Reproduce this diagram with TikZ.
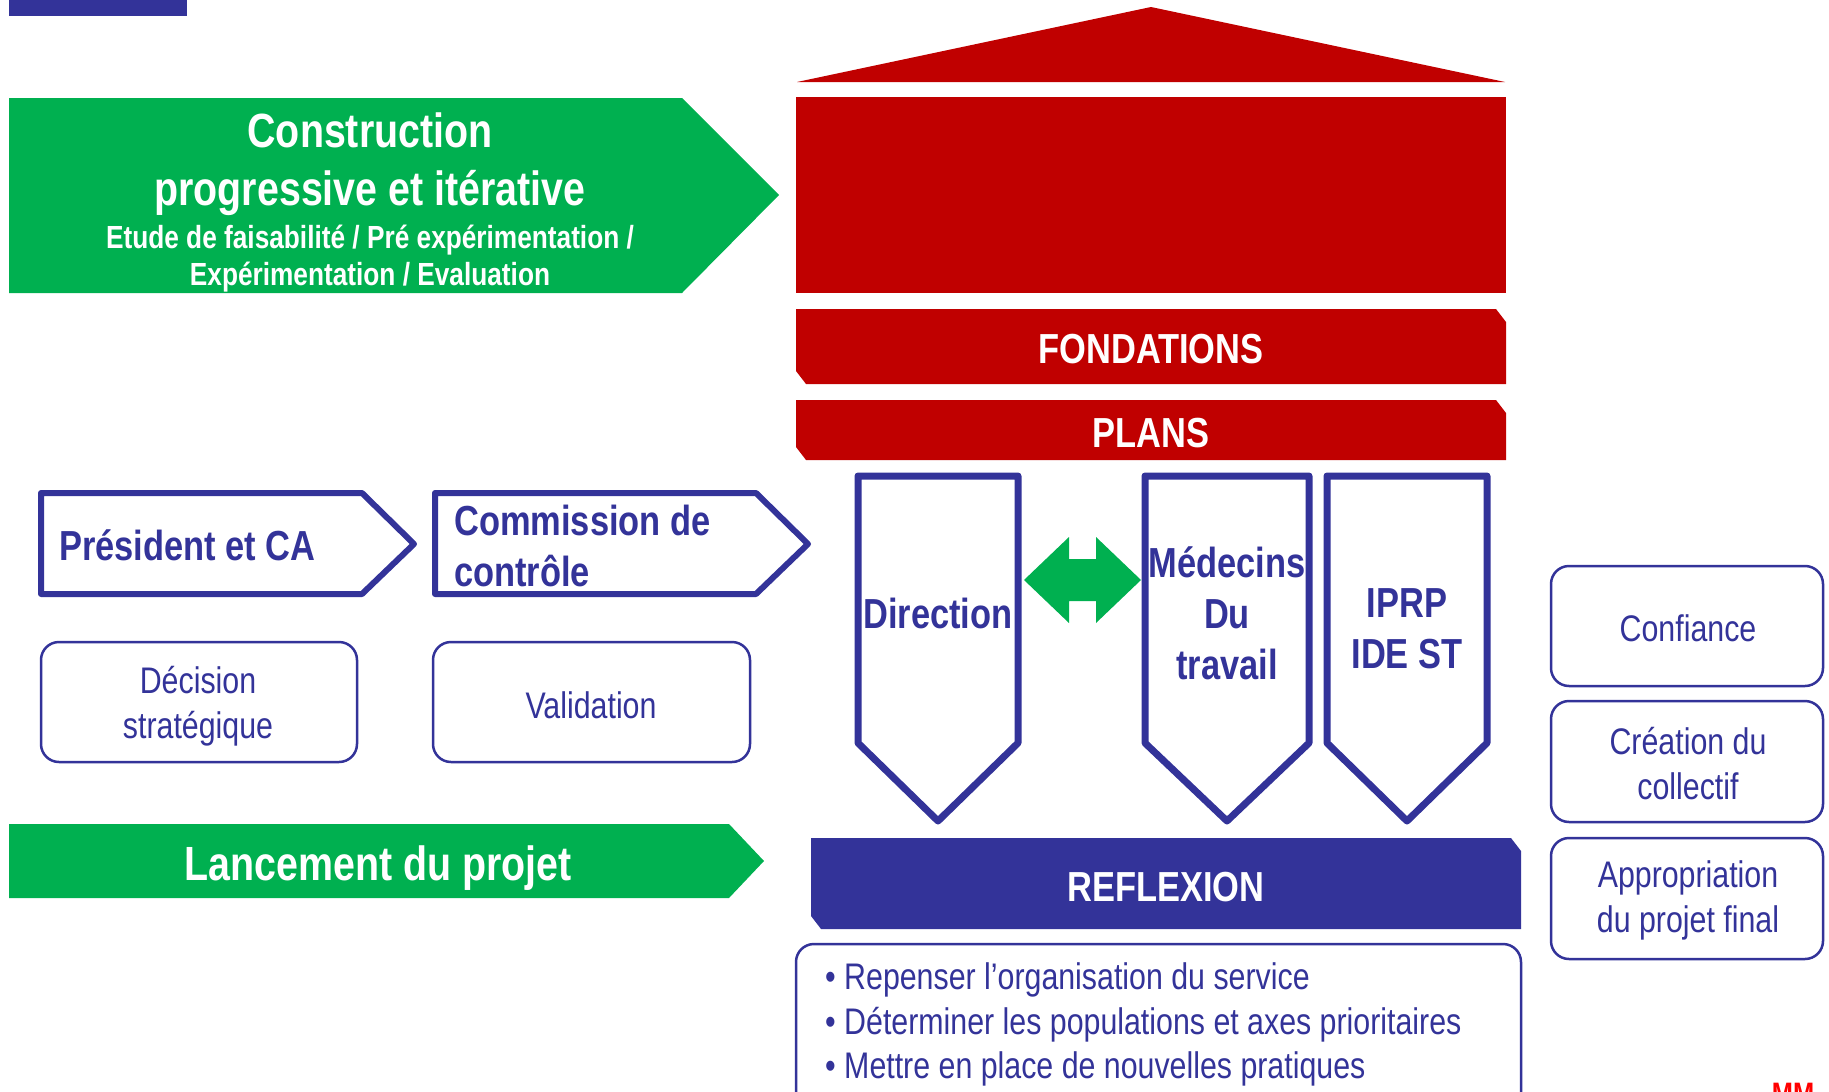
\documentclass[tikz,border=0pt]{standalone}
\usepackage{fontspec}
\setmainfont[FakeStretch=0.82]{Liberation Sans}
\definecolor{vert}{HTML}{00B050}
\definecolor{rouge}{HTML}{C00000}
\definecolor{bleu}{HTML}{333399}
\tikzset{
  banner/.style={fill=vert},
  maison/.style={fill=rouge},
  pilier/.style={draw=bleu, line width=7pt, line join=round, fill=white},
  fleche/.style={draw=bleu, line width=6pt, line join=round, fill=white},
  boite/.style={draw=bleu, line width=2.5pt, rounded corners=18pt, fill=white},
  titre/.style={text=bleu, font=\bfseries\fontsize{42}{51}\selectfont, inner sep=0, align=center},
  texte/.style={text=bleu, font=\fontsize{37}{45}\selectfont, inner sep=0, align=center},
  blanc/.style={text=white, font=\bfseries\fontsize{42}{51}\selectfont, inner sep=0}
}

\begin{document}
\begin{tikzpicture}[x=1pt, y=-1pt]

\useasboundingbox (0,0) rectangle (1829,1092);
\clip (0,0) rectangle (1829,1092);

% bandeau du haut
\fill [bleu] (9,0) rectangle (187,16);

% fleches vertes
\fill [banner] (9,98) -- (682,98) -- (779,195) -- (682,293) -- (9,293) -- cycle;
\node [text=white, font=\bfseries\fontsize{48}{58}\selectfont, align=center, inner sep=0] (constr) at (370,164) {Construction\\progressive et itérative};
\node [text=white, font=\bfseries\fontsize{32}{37}\selectfont, align=center, inner sep=0] (etapes) at (370,259) {Etude de faisabilité / Pré expérimentation /\\Expérimentation / Evaluation};

\fill [banner] (9,824) -- (729,824) -- (764,861) -- (729,898) -- (9,898) -- cycle;
\node [text=white, font=\bfseries\fontsize{48}{58}\selectfont, inner sep=0] (lancement) at (378,868) {Lancement du projet};

% la maison
\fill [maison] (797,82) -- (1151,7) -- (1505,82) -- cycle;
\fill [maison] (796,97) rectangle (1506,293);
\fill [maison] (796,309) -- (1496,309) -- (1506,322) -- (1506,384) -- (806,384) -- (796,371) -- cycle;
\fill [maison] (796,400) -- (1496,400) -- (1506,413) -- (1506,460) -- (806,460) -- (796,447) -- cycle;
\node [blanc] (fond) at (1151,349) {FONDATIONS};
\node [blanc] (plans) at (1151,433) {PLANS};

% piliers
\draw [pilier] (858,476) -- (1018,476) -- (1018,743) -- (938,821) -- (858,743) -- cycle;
\draw [pilier] (1145,476) -- (1309,476) -- (1309,743) -- (1227,821) -- (1145,743) -- cycle;
\draw [pilier] (1327,476) -- (1487,476) -- (1487,743) -- (1407,821) -- (1327,743) -- cycle;
\node [titre] (dir) at (938,613) {Direction};
\node [titre] (med) at (1227,613) {Médecins\\Du\\travail};
\node [titre] (iprp) at (1407,629) {IPRP\\IDE ST};

% double fleche
\coordinate (dirE) at (1024,580);
\coordinate (medW) at (1141,580);
\fill [vert] (dirE) -- ++(45,-43) -- ++(0,22) -- ++(27,0) -- ++(0,-22) -- (medW)
  -- ++(-45,43) -- ++(0,-22) -- ++(-27,0) -- ++(0,22) -- cycle;

% reflexion
\fill [bleu] (811,838) -- (1511,838) -- (1521,851) -- (1521,929) -- (821,929) -- (811,916) -- cycle;
\node [blanc] (refl) at (1166,887) {REFLEXION};
\draw [boite] (796,944) rectangle (1521,1120);
\node [texte, anchor=west] (b1) at (825,980) {• Repenser l’organisation du service};
\node [texte, anchor=west] (b2) at (825,1025) {• Déterminer les populations et axes prioritaires};
\node [texte, anchor=west] (b3) at (825,1069) {• Mettre en place de nouvelles pratiques};

% acteurs
\draw [fleche] (41,493) -- (362,493) -- (414,544) -- (362,594) -- (41,594) -- cycle;
\draw [fleche] (435,493) -- (756,493) -- (808,544) -- (756,594) -- (435,594) -- cycle;
\node [titre, anchor=west] (pres) at (59,545) {Président et CA};
\node [titre, anchor=west, align=left] (comm) at (454,546) {Commission de\\contrôle};

\draw [boite] (41,642) rectangle (357,762);
\draw [boite] (433,642) rectangle (750,762);
\node [texte] (dec) at (198,706) {Décision\\stratégique};
\node [texte] (valid) at (591,705) {Validation};

% valeurs
\draw [boite] (1551,566) rectangle (1823,686);
\draw [boite] (1551,701) rectangle (1823,822);
\draw [boite] (1551,838) rectangle (1823,959);
\node [texte] (conf) at (1688,628) {Confiance};
\node [texte] (crea) at (1688,764) {Création du\\collectif};
\node [texte] (appr) at (1688,900) {Appropriation\\du projet final};

\node [text=red, font=\bfseries\fontsize{31}{37}\selectfont, inner sep=0, anchor=north] (mm) at (1793,1083) {MM};

\end{tikzpicture}
\end{document}
